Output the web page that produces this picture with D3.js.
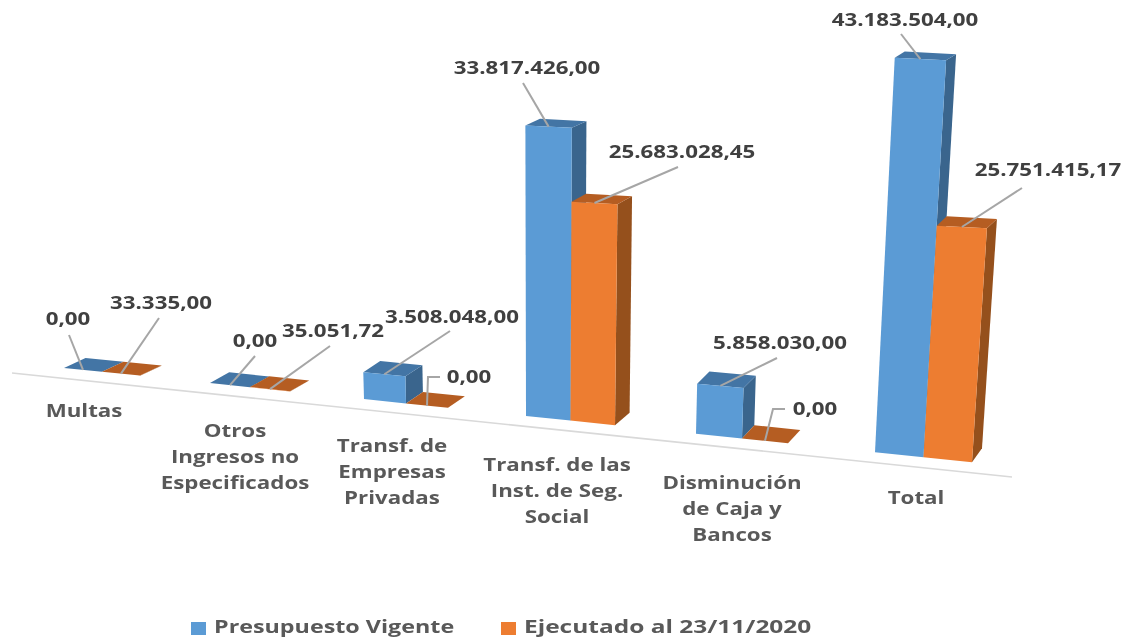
<!DOCTYPE html>
<html lang="en">

<head>
    <meta charset="UTF-8">
    <title>Presupuesto Vigente vs Ejecutado</title>
    <style>
        html, body { margin: 0; padding: 0; background: #fff; overflow: hidden; }
        svg { filter: blur(0.45px); }
        text { font-family: "Open Sans", sans-serif; font-weight: 700; }
    </style>
</head>

<body>
    <script src="https://d3js.org/d3.v7.min.js"></script>
    <script>
        // data
        const categories = [
            ["Multas"],
            ["Otros", "Ingresos no", "Especificados"],
            ["Transf. de", "Empresas", "Privadas"],
            ["Transf. de las", "Inst. de Seg.", "Social"],
            ["Disminución", "de Caja y", "Bancos"],
            ["Total"]
        ];
        const presupuesto = [0, 0, 3508048, 33817426, 5858030, 43183504];
        const ejecutado = [33335, 35051.72, 0, 25683028.45, 0, 25751415.17];
        const seriesNames = ["Presupuesto Vigente", "Ejecutado al 23/11/2020"];

        const width = 1122;
        const height = 638;
        const textStretch = 1.24;

        const faces = [
            { front: "#5b9bd5", top: "#4375a5", side: "#3a658d" },
            { front: "#ed7d31", top: "#b55d22", side: "#95501c" }
        ];

        // the picture is a perspective view, so these scales stand in for the projection
        const idx = categories.map((d, i) => i);
        const xScale = d3.scaleLinear().domain(idx).range([64, 210, 364, 526, 696, 875]);
        const barWidth = d3.scaleLinear().domain(idx).range([38, 40, 42, 44.5, 46, 48.5]);
        const valueScale = d3.scalePow().exponent(1.03).domain([0, 1e6]).range([0, 1]);
        const pxPerUnit = d3.scaleLinear().domain(idx).range([7.4, 7.4, 7.4, 7.73, 8.09, 8.16]);
        const depthX = d3.scaleLinear().domain([0, 5]).range([21.5, 10]);
        const depthY = d3.scaleLinear().domain([0, 5]).range([-10, -14]);
        const baseY = d3.scaleLinear().domain([12, 1012]).range([373, 477]);
        const lean = d3.scaleLinear().domain([540, 875]).range([0, 0.05]);
        // top edges run flatter than the floor as the bars get taller
        const flatten = d3.scaleLinear().domain([0, 230]).range([0, 0.05]).clamp(true);

        const es = d3.formatLocale({ decimal: ",", thousands: ".", grouping: [3], currency: ["", ""] });
        const fmt = es.format(",.2f");

        const svg = d3.select("body").append("svg")
            .attr("width", width)
            .attr("height", height);

        svg.append("line")
            .attr("x1", 12).attr("y1", baseY(12))
            .attr("x2", 1012).attr("y2", baseY(1012))
            .attr("stroke", "#d9d9d9")
            .attr("stroke-width", 1.6);

        // x0 = point on the floor front edge, l = left edge of that bar, h = height in px, back = 0 or 1
        function project(i, x0, l, h, back) {
            const x = x0 + lean(x0) * h + back * depthX(i);
            const y = baseY(x0) - 10.5 - h - (x0 - l) * flatten(h) + back * (depthY(i) + 0.02 * h);
            return [x, y];
        }

        function poly(points) {
            return "M" + points.map(p => p.join(",")).join("L") + "Z";
        }

        const anchors = [[], []];

        idx.forEach(i => {
            const w = barWidth(i);
            [presupuesto[i], ejecutado[i]].forEach((v, s) => {
                const h = valueScale(v) * pxPerUnit(i);
                const l = xScale(i) + s * w;
                const r = l + w;
                const g = svg.append("g").attr("class", "bar");

                g.append("path")
                    .attr("fill", faces[s].side)
                    .attr("d", poly([project(i, r, l, 0, 0), project(i, r, l, 0, 1), project(i, r, l, h, 1), project(i, r, l, h, 0)]));
                g.append("path")
                    .attr("fill", faces[s].top)
                    .attr("d", poly([project(i, l, l, h, 0), project(i, r, l, h, 0), project(i, r, l, h, 1), project(i, l, l, h, 1)]));
                g.append("path")
                    .attr("fill", faces[s].front)
                    .attr("d", poly([project(i, l, l, 0, 0), project(i, r, l, 0, 0), project(i, r, l, h, 0), project(i, l, l, h, 0)]));

                anchors[s][i] = project(i, (l + r) / 2, l, h, 0);
            });
        });

        // annotation layout: [leader start x, y, elbow x or null, text centre x, baseline y]
        const labelLayout = [
            [[69, 335, null, 68, 325], [255, 356, null, 255, 347], [450, 331, null, 452, 323],
             [523, 83, null, 527, 74], [777, 358, null, 780, 349], [901, 34, null, 905, 26]],
            [[159, 318, null, 161, 309], [330, 346, null, 333, 337], [440, 377, 428, 469, 383],
             [678, 167, null, 682, 158], [785, 409, 773, 815, 415], [1022, 188, null, 1048, 176]]
        ];

        [presupuesto, ejecutado].forEach((values, s) => {
            values.forEach((v, i) => {
                const [lx, ly, elbow, tx, ty] = labelLayout[s][i];
                const [ax, ay] = anchors[s][i];
                const pts = elbow === null ? [[lx, ly], [ax, ay]] : [[lx, ly], [elbow, ly], [ax, ay]];
                svg.append("path")
                    .attr("d", d3.line()(pts))
                    .attr("fill", "none")
                    .attr("stroke", "#a6a6a6")
                    .attr("stroke-width", 2);
                svg.append("text")
                    .attr("transform", `translate(${tx},${ty}) scale(${textStretch},1)`)
                    .attr("text-anchor", "middle")
                    .attr("font-size", 18)
                    .attr("fill", "#404040")
                    .text(fmt(v));
            });
        });

        // category labels: centre x and first baseline
        const catX = [84, 235, 392, 557, 732, 916];
        const catY = [417, 437, 452, 471, 489, 504];
        const catLine = 26;

        categories.forEach((lines, i) => {
            lines.forEach((t, j) => {
                svg.append("text")
                    .attr("transform", `translate(${catX[i]},${catY[i] + j * catLine}) scale(${textStretch},1)`)
                    .attr("text-anchor", "middle")
                    .attr("font-size", 18)
                    .attr("fill", "#595959")
                    .text(t);
            });
        });

        // legend
        const legendX = [191, 501];
        const legendStretch = [1.295, 1.36];
        seriesNames.forEach((name, s) => {
            svg.append("rect")
                .attr("x", legendX[s]).attr("y", 622)
                .attr("width", 15).attr("height", 13)
                .attr("fill", faces[s].front);
            svg.append("text")
                .attr("transform", `translate(${legendX[s] + 23},633) scale(${legendStretch[s]},1)`)
                .attr("font-size", 18)
                .attr("fill", "#595959")
                .text(name);
        });
    </script>
</body>

</html>
